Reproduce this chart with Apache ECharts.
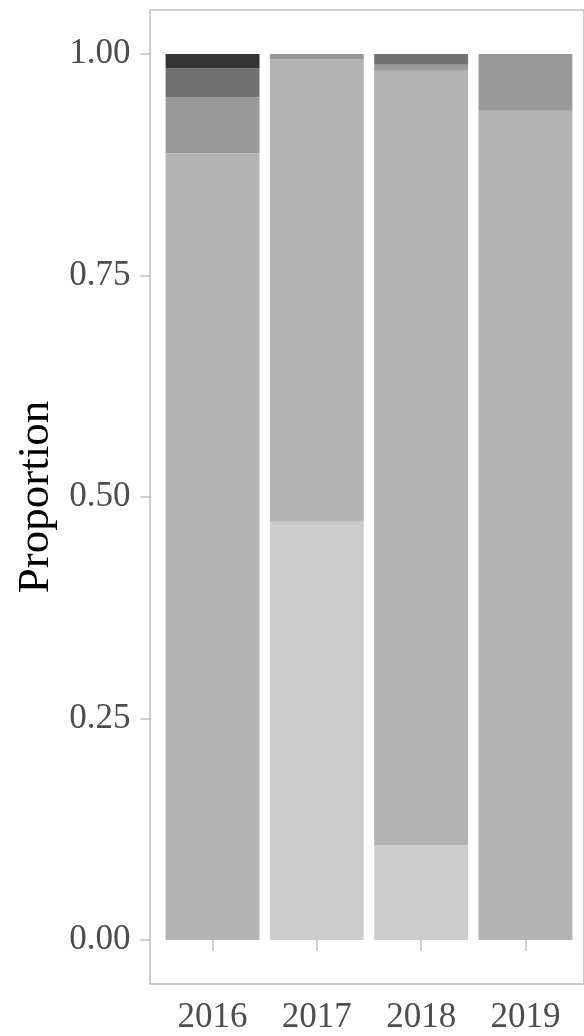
<!DOCTYPE html>
<html>
<head>
<meta charset="utf-8">
<script src="https://cdn.jsdelivr.net/npm/echarts@6/dist/echarts.min.js"></script>
<style>
html,body{margin:0;padding:0;background:#fff;}
#chart{width:584px;height:1036px;}
</style>
</head>
<body>
<div id="chart"></div>
<script>
var categories = ['2016', '2017', '2018', '2019'];
var yTicks = [0, 0.25, 0.5, 0.75, 1];
// stacked from bottom to top
var grp1 = [0, 0.472, 0.107, 0];        // lightest
var grp2 = [0.888, 0.522, 0.874, 0.936];
var grp3 = [0.063, 0.006, 0.007, 0.064];
var grp4 = [0.033, 0, 0.012, 0];
var grp5 = [0.016, 0, 0, 0];            // darkest
var seriesData = [grp1, grp2, grp3, grp4, grp5];
var colors = ['#cccccc', '#b3b3b3', '#999999', '#727272', '#333333'];

var chart = echarts.init(document.getElementById('chart'), null, {renderer: 'canvas'});
var font = "'Liberation Serif', 'Times New Roman', serif";
var lineCol = '#bfbfbf';

var series = seriesData.map(function (d, i) {
  return {
    type: 'bar',
    stack: 'total',
    xAxisIndex: 0,
    yAxisIndex: 0,
    barWidth: '90%',
    data: d.map(function (v) { return v === 0 ? null : v; }),
    itemStyle: {color: colors[i]},
    silent: true
  };
});

chart.setOption({
  animation: false,
  grid: [
    {left: 160.4, right: 6.4, top: 54, bottom: 96},
    {left: 150, right: -4, top: 10, bottom: 52, show: true, borderColor: lineCol, borderWidth: 1.5, backgroundColor: 'transparent'}
  ],
  xAxis: [
    {
      type: 'category', gridIndex: 0, data: categories,
      offset: 44,
      axisLine: {show: false},
      axisTick: {show: true, alignWithLabel: true, length: 11, lineStyle: {color: lineCol, width: 1.5}},
      axisLabel: {fontFamily: font, fontSize: 35, color: '#4d4d4d', margin: 16},
      splitLine: {show: false}
    },
    {type: 'value', gridIndex: 1, show: false, min: 0, max: 1}
  ],
  yAxis: [
    {
      type: 'value', gridIndex: 0, min: 0, max: 1, interval: 0.25,
      offset: 10,
      name: 'Proportion', nameLocation: 'middle', nameGap: 92, nameRotate: 90,
      nameTextStyle: {fontFamily: font, fontSize: 45, color: '#000'},
      axisLine: {show: false},
      axisTick: {show: true, length: 10, lineStyle: {color: lineCol, width: 1.5}},
      axisLabel: {fontFamily: font, fontSize: 35, color: '#4d4d4d', margin: 20,
        formatter: function (v) { return v.toFixed(2); }},
      splitLine: {show: false}
    },
    {type: 'value', gridIndex: 1, show: false, min: 0, max: 1}
  ],
  series: series
});
</script>
</body>
</html>
